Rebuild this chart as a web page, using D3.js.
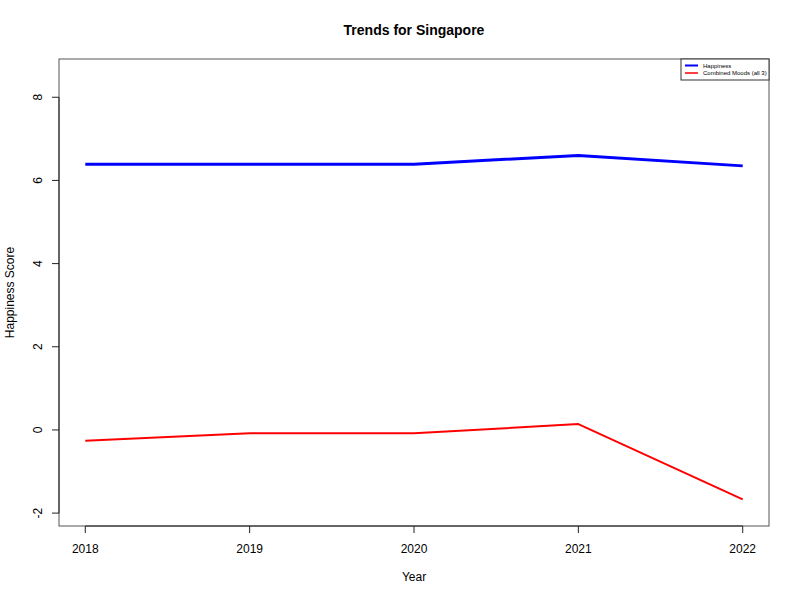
<!DOCTYPE html>
<html><head><meta charset="utf-8">
<script src="https://cdn.jsdelivr.net/npm/d3@7"></script>
<style>body{margin:0;background:#fff}svg{display:block;font-family:"Liberation Sans",Arial,sans-serif}</style>
</head><body>
<svg id="c" width="800" height="600"></svg>
<script>
const years = [2018, 2019, 2020, 2021, 2022];
const happiness = [6.39, 6.39, 6.39, 6.60, 6.35];
const combinedMoods = [-0.26, -0.08, -0.08, 0.14, -1.67];
const yTicks = [-2, 0, 2, 4, 6, 8];
const seriesNames = ["Happiness", "Combined Moods (all 3)"];

const svg = d3.select("#c");
const L = 59, R = 769, T = 59, B = 526;
const x = d3.scaleLinear().domain([2017.84, 2022.16]).range([L, R]);
const y = d3.scaleLinear().domain([-2.31, 8.92]).range([B, T]);

svg.append("rect").attr("x", L).attr("y", T).attr("width", R - L).attr("height", B - T)
  .attr("fill", "none").attr("stroke", "#555").attr("stroke-width", 1);

const line = d3.line().x((d, i) => x(years[i])).y(d => y(d));
svg.append("path").datum(happiness).attr("d", line).attr("fill", "none")
  .attr("stroke", "#0000ff").attr("stroke-width", 3).attr("stroke-linejoin", "round");
svg.append("path").datum(combinedMoods).attr("d", line).attr("fill", "none")
  .attr("stroke", "#ff0000").attr("stroke-width", 2).attr("stroke-linejoin", "round");

// x axis
const xa = svg.append("g");
xa.append("line").attr("x1", x(years[0])).attr("x2", x(years[years.length - 1]))
  .attr("y1", B).attr("y2", B).attr("stroke", "#222");
years.forEach(v => {
  xa.append("line").attr("x1", x(v)).attr("x2", x(v)).attr("y1", B).attr("y2", B + 7).attr("stroke", "#222");
  xa.append("text").attr("x", x(v)).attr("y", 553).attr("text-anchor", "middle")
    .attr("font-size", 12).text(v);
});
// y axis
const ya = svg.append("g");
ya.append("line").attr("x1", L).attr("x2", L).attr("y1", y(yTicks[0])).attr("y2", y(yTicks[yTicks.length - 1])).attr("stroke", "#222");
yTicks.forEach(v => {
  ya.append("line").attr("x1", L - 7).attr("x2", L).attr("y1", y(v)).attr("y2", y(v)).attr("stroke", "#222");
  ya.append("text").attr("transform", `translate(42,${y(v)}) rotate(-90)`).attr("text-anchor", "middle")
    .attr("font-size", 12).text(v);
});

svg.append("text").attr("x", 414).attr("y", 35).attr("text-anchor", "middle")
  .attr("font-size", 14).attr("font-weight", "bold").text("Trends for Singapore");
svg.append("text").attr("x", 414).attr("y", 581).attr("text-anchor", "middle")
  .attr("font-size", 12).text("Year");
svg.append("text").attr("transform", "translate(14,292.5) rotate(-90)").attr("text-anchor", "middle")
  .attr("font-size", 12).text("Happiness Score");

// legend
const lg = svg.append("g");
lg.append("rect").attr("x", 681).attr("y", 59).attr("width", 88).attr("height", 21)
  .attr("fill", "#fff").attr("stroke", "#333").attr("stroke-width", 1);
const lc = ["#0000ff", "#ff0000"];
seriesNames.forEach((n, i) => {
  const yy = 65.5 + i * 7.5;
  lg.append("line").attr("x1", 685).attr("x2", 698).attr("y1", yy).attr("y2", yy)
    .attr("stroke", lc[i]).attr("stroke-width", i === 0 ? 2 : 1.5);
  lg.append("text").attr("x", 703).attr("y", yy + 2).attr("font-size", 6).text(n);
});
</script>
</body></html>
